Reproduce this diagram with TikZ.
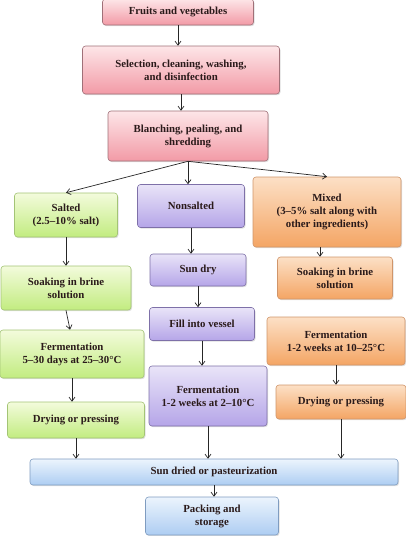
\documentclass[tikz,border=0pt]{standalone}
\usepackage{fontspec}
\setmainfont{Liberation Serif}
\usetikzlibrary{arrows.meta,shadows}
\definecolor{txt}{HTML}{2A1A1A}
\definecolor{pinkT}{HTML}{FDE6E8}\definecolor{pinkB}{HTML}{F29AA6}\definecolor{pinkD}{HTML}{A07078}
\definecolor{greenT}{HTML}{F3FBDC}\definecolor{greenB}{HTML}{C2EC80}\definecolor{greenD}{HTML}{A3C475}
\definecolor{purT}{HTML}{E9E4F8}\definecolor{purB}{HTML}{B5A5E8}\definecolor{purD}{HTML}{7E70A8}
\definecolor{orT}{HTML}{FCE0C6}\definecolor{orB}{HTML}{F4A564}\definecolor{orD}{HTML}{D0956A}
\definecolor{bluT}{HTML}{ECF4FD}\definecolor{bluB}{HTML}{ADCDF2}\definecolor{bluD}{HTML}{7F9CC0}
\tikzset{
  box/.style={rounded corners=3pt, line width=0.6pt, align=center, text=txt,
    font=\fontsize{10.8}{13}\selectfont\bfseries, inner sep=2pt,
    drop shadow={opacity=0.25, shadow xshift=1pt, shadow yshift=-1.2pt}},
  pinkbox/.style={box, draw=pinkD, top color=pinkT, bottom color=pinkB},
  greenbox/.style={box, draw=greenD, top color=greenT, bottom color=greenB},
  purbox/.style={box, draw=purD, top color=purT, bottom color=purB},
  orbox/.style={box, draw=orD, top color=orT, bottom color=orB},
  blubox/.style={box, draw=bluD, top color=bluT, bottom color=bluB},
  arr/.style={-{Straight Barb[length=4pt,width=6pt]}, line width=0.7pt, draw=black!85},
  sz/.style 2 args={minimum width=#1pt, minimum height=#2pt}
}
\begin{document}
\begin{tikzpicture}[x=1pt,y=-1pt]
\useasboundingbox (0,0) rectangle (406,536);
\node[pinkbox, sz={151}{26}] (fruits) at (178,12) {Fruits and vegetables};
\node[pinkbox, sz={197}{48}] (select) at (181,70) {Selection, cleaning, washing,\\and disinfection};
\node[pinkbox, sz={160}{50}] (blanch) at (188,136) {Blanching, pealing, and\\shredding};

\node[greenbox, sz={103}{44}] (salted) at (66,215) {Salted\\(2.5--10\% salt)};
\node[purbox, sz={107}{43}] (nonsalt) at (191,206) {Nonsalted};
\node[orbox, sz={148}{70}] (mixed) at (327,212) {Mixed\\(3--5\% salt along with\\other ingredients)};

\node[greenbox, sz={130}{44}] (soakg) at (66,288) {Soaking in brine\\solution};
\node[purbox, sz={96}{32}] (sundry) at (198,270) {Sun dry};
\node[orbox, sz={115}{42}] (soako) at (335,278) {Soaking in brine\\solution};

\node[purbox, sz={105}{33}] (fill) at (202,324) {Fill into vessel};
\node[greenbox, sz={144}{48}] (fermg) at (72,354) {Fermentation\\5--30 days at 25--30°C};
\node[orbox, sz={138}{48}] (fermo) at (336,341) {Fermentation\\1-2 weeks at 10--25°C};

\node[purbox, sz={118}{60}] (fermp) at (208,396) {Fermentation\\1-2 weeks at 2--10°C};
\node[greenbox, sz={137}{36}] (dryg) at (76,420) {Drying or pressing};
\node[orbox, sz={130}{34}] (dryo) at (341,402) {Drying or pressing};

\node[blubox, sz={368}{26}] (sundried) at (214,472) {Sun dried or pasteurization};
\node[blubox, sz={133}{38}] (pack) at (212,516) {Packing and\\storage};

\draw[arr] (fruits.south) -- (fruits.south |- select.north);
\draw[arr] (select.south) -- (select.south |- blanch.north);
\draw[arr] (blanch.south) -- (salted.north);
\draw[arr] (blanch.south) -- (blanch.south |- nonsalt.north);
\draw[arr] (blanch.south) -- (mixed.north);

\draw[arr] (salted.south) -- (salted.south |- soakg.north);
\draw[arr] (soakg.south) -- ([xshift=4pt]soakg.south |- fermg.north);
\draw[arr] (fermg.south) -- (fermg.south |- dryg.north);
\draw[arr] (dryg.south) -- (dryg.south |- sundried.north);

\draw[arr] (nonsalt.south) -- (nonsalt.south |- sundry.north);
\draw[arr] (sundry.south) -- (sundry.south |- fill.north);
\draw[arr] (fill.south) -- (fill.south |- fermp.north);
\draw[arr] (fermp.south) -- (fermp.south |- sundried.north);

\draw[arr] ([xshift=-7pt]mixed.south) -- ([xshift=-7pt]mixed.south |- soako.north);
\draw[arr] (fermo.south) -- (fermo.south |- dryo.north);
\draw[arr] (dryo.south) -- (dryo.south |- sundried.north);

\draw[arr] (sundried.south) -- (sundried.south |- pack.north);
\end{tikzpicture}
\end{document}
